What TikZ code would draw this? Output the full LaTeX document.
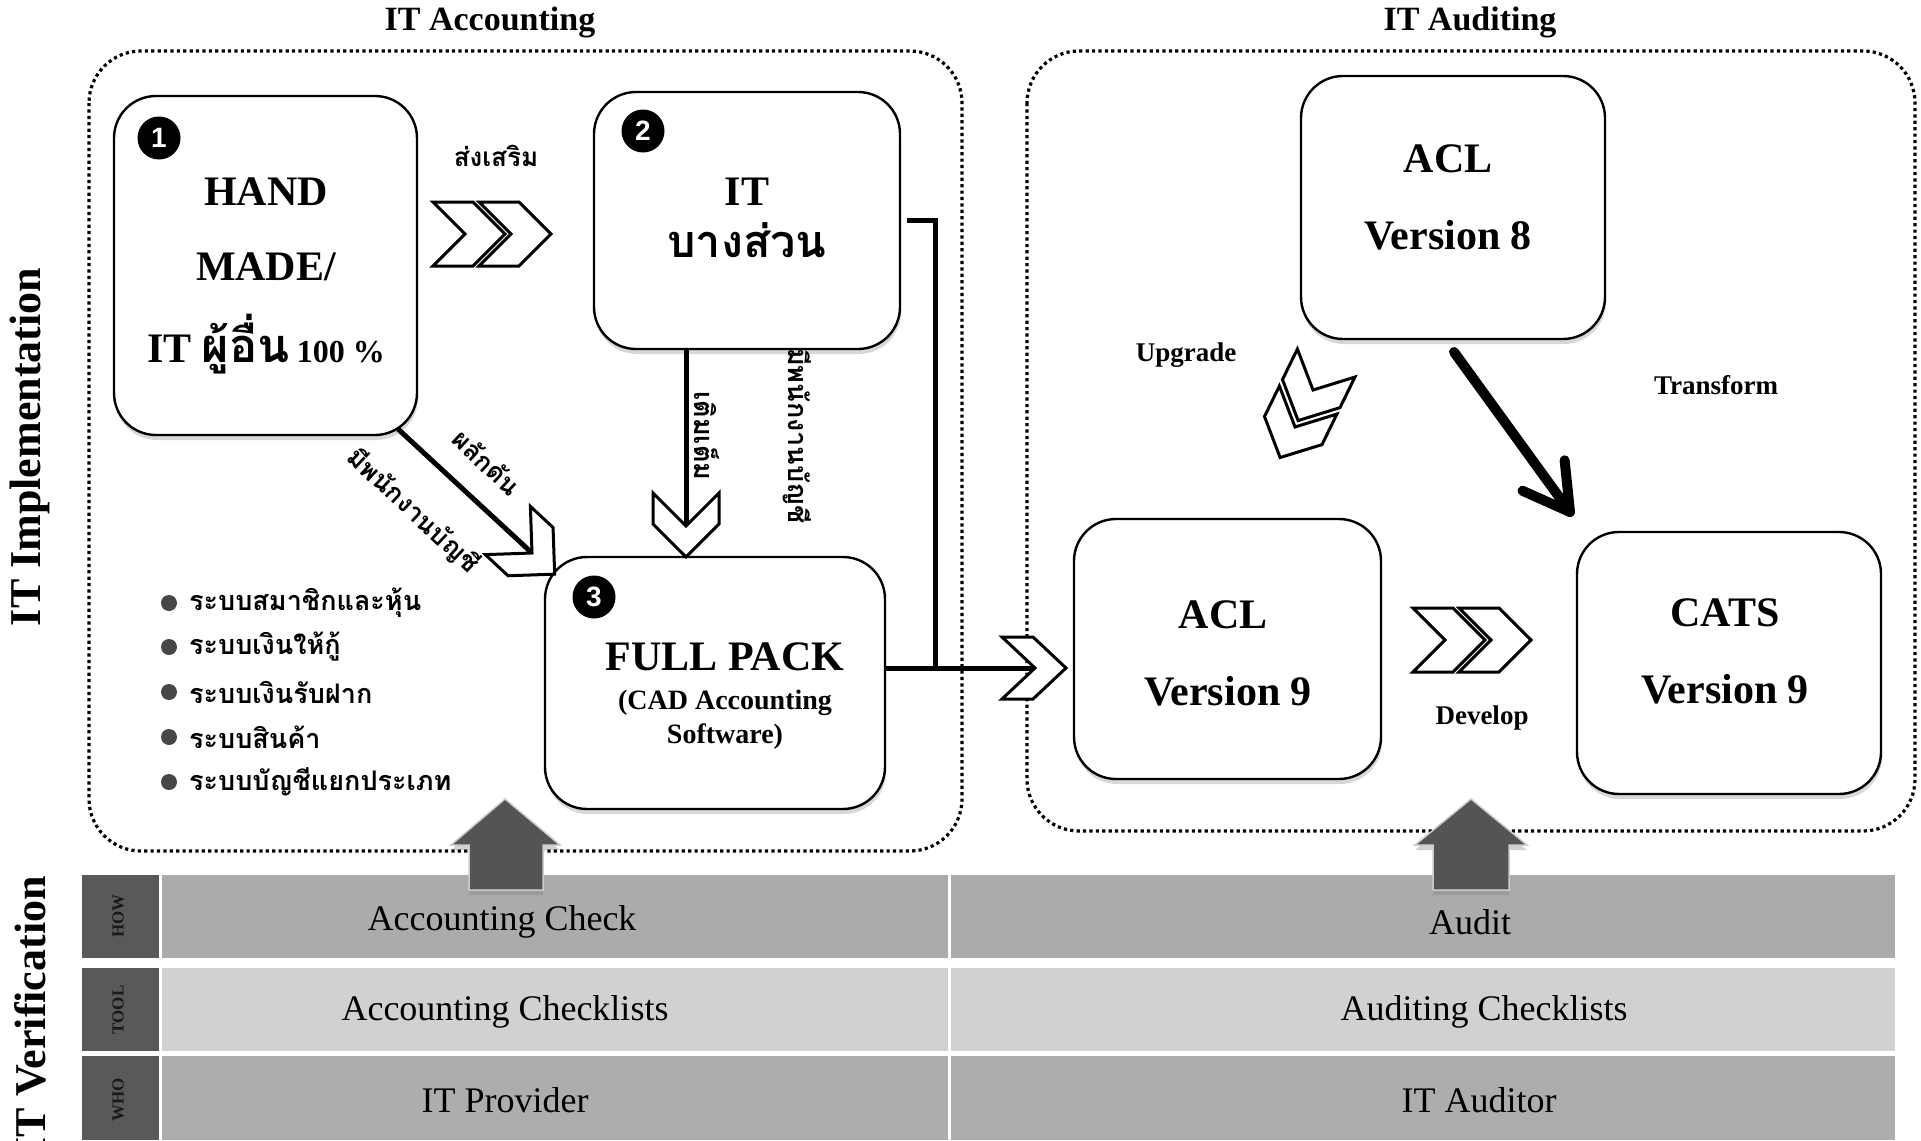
\documentclass[tikz,border=0pt]{standalone}
\usepackage{fontspec}
\setmainfont{Liberation Serif}
\newfontfamily\thaifont[Script=Thai]{Loma}
\newfontfamily\numfont{Liberation Sans}
\usetikzlibrary{shadows,calc}
\tikzset{
  pics/chev/.style n args={3}{code={%
    \path[chevstyle] (-#1,#3) -- (0,0) -- (-#1,-#3) -- (-#1+#2,-#3) -- (#2,0) -- (-#1+#2,#3) -- cycle;}},
}
\begin{document}
\begin{tikzpicture}[x=1pt,y=-1pt,
  rbox/.style={draw=black, line width=2.4pt, fill=white, rounded corners=42pt, inner sep=0pt,
    drop shadow={opacity=0.3, shadow xshift=1pt, shadow yshift=-5pt}},
  numc/.style={circle, fill=black, inner sep=0pt, minimum size=43pt, text=white,
    font=\numfont\bfseries\fontsize{28}{28}\selectfont},
  bigtxt/.style={font=\bfseries\fontsize{42}{48}\selectfont, inner sep=0pt},
  subtxt/.style={font=\bfseries\fontsize{28}{34}\selectfont, inner sep=0pt, align=center},
  lbl/.style={font=\bfseries\fontsize{27}{30}\selectfont, inner sep=0pt},
  thlbl/.style={font=\thaifont\bfseries\fontsize{26}{28}\selectfont, inner sep=0pt},
  bullettxt/.style={font=\thaifont\bfseries\fontsize{27}{30}\selectfont, inner sep=0pt, anchor=west},
  dotbox/.style={draw=black, line width=3.2pt, dash pattern=on 3.2pt off 3.2pt, rounded corners=52pt},
  conn/.style={draw=black, line width=5pt},
  chevstyle/.style={draw=black, line width=3pt, fill=white, line join=miter},
  title/.style={font=\bfseries\fontsize{34}{40}\selectfont, inner sep=0pt},
  side/.style={font=\bfseries\fontsize{44}{50}\selectfont, inner sep=0pt, rotate=90},
  celltxt/.style={font=\fontsize{36}{40}\selectfont, inner sep=0pt},
  coltxt/.style={font=\bfseries\fontsize{17}{20}\selectfont, inner sep=0pt, rotate=90, text=black!90},
  uparrow/.style={fill=black!67, draw=black!20, line width=1.5pt,
    drop shadow={opacity=0.35, shadow xshift=0pt, shadow yshift=-5pt}},
  bul/.style={circle, fill=black!72, inner sep=0pt, minimum size=16pt},
]
\useasboundingbox (0,0) rectangle (1921,1140);
\fill[white] (0,0) rectangle (1921,1140);

% titles
\node[title] (tacc) at (490,22) {IT Accounting};
\node[title] (taud) at (1470,22) {IT Auditing};
\node[side] (simpl) at (30,447) {IT Implementation};
\node[side, anchor=east] (sver) at (30,876) {IT Verification};

% containers
\draw[dotbox] (89,51) rectangle (962,851);
\draw[dotbox] (1027,51) rectangle (1915,831);

% table
\fill[black!65] (82,875) rectangle (159,958);
\fill[black!65] (82,968) rectangle (159,1051);
\fill[black!65] (82,1056) rectangle (159,1140);
\fill[black!33] (162,875) rectangle (948,958);
\fill[black!33] (951,875) rectangle (1895,958);
\fill[black!18] (162,968) rectangle (948,1051);
\fill[black!18] (951,968) rectangle (1895,1051);
\fill[black!32] (162,1056) rectangle (948,1140);
\fill[black!32] (951,1056) rectangle (1895,1140);
\node[coltxt] (chow) at (118,916) {HOW};
\node[coltxt] (ctool) at (118,1010) {TOOL};
\node[coltxt] (cwho) at (118,1100) {WHO};
\node[celltxt] (c1) at (502,922) {Accounting Check};
\node[celltxt] (c2) at (1470,922) {Audit};
\node[celltxt] (c3) at (505,1012) {Accounting Checklists};
\node[celltxt] (c4) at (1484,1012) {Auditing Checklists};
\node[celltxt] (c5) at (505,1100) {IT Provider};
\node[celltxt] (c6) at (1479,1100) {IT Auditor};

% up arrows
\path[uparrow] (505,799) -- (560,845) -- (543,845) -- (543,890) -- (469,890) -- (469,845) -- (451,845) -- cycle;
\path[uparrow] (1471,799) -- (1527,845) -- (1509,845) -- (1509,890) -- (1433,890) -- (1433,845) -- (1415,845) -- cycle;

% boxes
\node[rbox, minimum width=303pt, minimum height=339pt] (b1) at (265.5,265.5) {};
\node[rbox, minimum width=306pt, minimum height=257pt] (b2) at (747,220.5) {};
\node[rbox, minimum width=340pt, minimum height=252pt] (b3) at (715,683) {};
\node[rbox, minimum width=304pt, minimum height=263pt] (acl8) at (1453,207.5) {};
\node[rbox, minimum width=307pt, minimum height=260pt] (acl9) at (1227.5,649) {};
\node[rbox, minimum width=304pt, minimum height=262pt] (cats) at (1729,663) {};

\node[numc] (n1) at (159,138) {1};
\node[numc] (n2) at (643,131) {2};
\node[numc] (n3) at (594,597) {3};

% box texts
\node[bigtxt] (t1a) at (266,192) {HAND};
\node[bigtxt] (t1b) at (266,267) {MADE/};
\node[bigtxt] (t1c) at (266,344) {IT {\thaifont\fontsize{47}{50}\selectfont ผู้อื่น}\,{\fontsize{32}{34}\selectfont 100 \%}};
\node[bigtxt] (t2a) at (747,192) {IT};
\node[bigtxt, font=\thaifont\bfseries\fontsize{45}{48}\selectfont] (t2b) at (747,240) {บางส่วน};
\node[bigtxt] (t3a) at (725,657) {FULL PACK};
\node[subtxt] (t3b) at (725,720) {(CAD Accounting\\Software)};
\node[bigtxt] (t8a) at (1448,159) {ACL};
\node[bigtxt] (t8b) at (1448,235) {Version 8};
\node[bigtxt] (t9a) at (1223,615) {ACL};
\node[bigtxt] (t9b) at (1228,691) {Version 9};
\node[bigtxt] (tca) at (1725,613) {CATS};
\node[bigtxt] (tcb) at (1725,689) {Version 9};

% labels
\node[thlbl] (lsong) at (496,156) {ส่งเสริม};
\node[lbl] (lup) at (1186,355) {Upgrade};
\node[lbl] (ltr) at (1716,385) {Transform};
\node[lbl] (ldev) at (1482,718) {Develop};
\node[thlbl, rotate=-43] (lpush) at (487,462) {ผลักดัน};
\node[thlbl, rotate=-43] (lstaff1) at (413,511) {มีพนักงานบัญชี};
\node[thlbl, font=\thaifont\bfseries\fontsize{27}{28}\selectfont, rotate=-90] (lfill) at (707,436) {เติมเต็ม};
\node[thlbl, font=\thaifont\bfseries\fontsize{27}{28}\selectfont, rotate=-90] (lstaff2) at (797,436) {มีพนักงานบัญชี};

% bullet list
\foreach \yy/\tx [count=\i] in {603/ระบบสมาชิกและหุ้น, 647/ระบบเงินให้กู้, 692/ระบบเงินรับฝาก, 737/ระบบสินค้า, 782/ระบบบัญชีแยกประเภท}{
  \node[bul] (bu\i) at (169,\yy) {};
  \node[bullettxt] (bt\i) at (189,\yy) {\tx};
}

% double chevrons
\pic at (465,234) {chev={32}{40}{32}};
\pic at (511,234) {chev={32}{40}{32}};
\pic at (1445,640) {chev={32}{40}{32}};
\pic at (1491,640) {chev={32}{40}{32}};
\pic[rotate=-116] at (1313,390) {chev={30}{34}{32}};
\pic[rotate=-116] at (1295,427) {chev={30}{34}{32}};

% connectors
\coordinate (d1s) at (398,429);
\coordinate (d1e) at (532,553);
\draw[conn] (d1s) -- (d1e);
\pic[rotate=-43] at (d1e) {chev={33}{31}{33}};

\coordinate (v2e) at (686,526);
\draw[conn] (b2.south -| v2e) -- (v2e);
\pic[rotate=-90] at (v2e) {chev={33}{31}{33}};

\coordinate (r3e) at (1035,668);
\coordinate (r2s) at (907,220);
\coordinate (r2c) at (935,220);
\draw[conn] (b3.east |- r3e) -- (r3e);
\draw[conn, line join=miter] (r2s) -- (r2c) -- (r2c |- r3e);
\pic at (r3e) {chev={33}{31}{31}};

\coordinate (ts) at (1454,352);
\coordinate (tt) at (1570,512);
\draw[line width=10pt, line cap=round] (ts) -- (tt);
\draw[line width=10pt, line cap=round, line join=round] ($(tt)!52pt!30:(ts)$) -- (tt) -- ($(tt)!52pt!-30:(ts)$);
\end{tikzpicture}
\end{document}
